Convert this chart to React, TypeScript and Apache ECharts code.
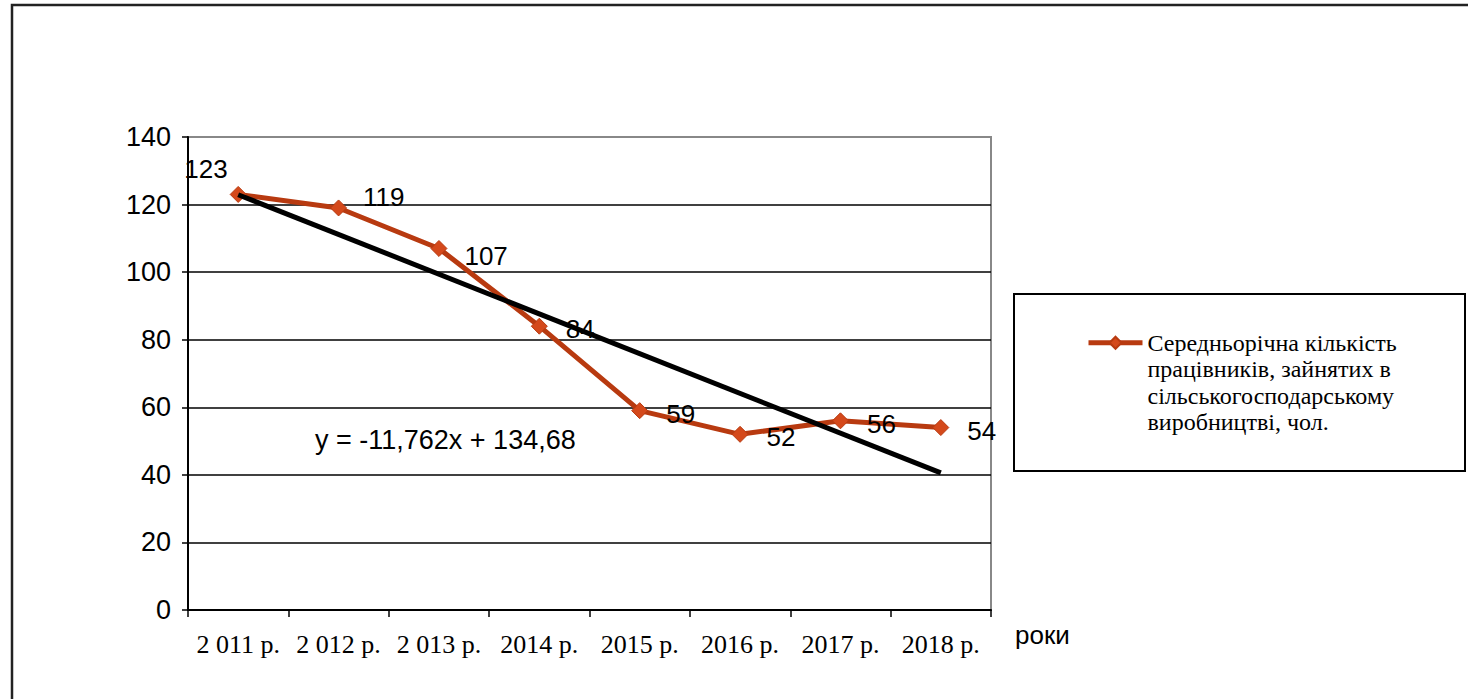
import React, { useEffect, useRef } from "react";
import * as echarts from "echarts";

const categories = ["2 011 р.", "2 012 р.", "2 013 р.", "2014 р.", "2015 р.", "2016 р.", "2017 р.", "2018 р."];
const workers = [123, 119, 107, 84, 59, 52, 56, 54];
// trend line end points (y = -11,762x + 134,68)
const trendValues = [122.92, null, null, null, null, null, null, 40.58];
const seriesName = "Середньорічна кількість\nпрацівників, зайнятих в\nсільськогосподарському\nвиробництві, чол.";
const trendName = "Лінійний тренд";
const equationText = "y = -11,762x + 134,68";
const xAxisName = "роки";
const yTicks = { min: 0, max: 140, interval: 20 };

export default function App() {
  const ref = useRef<HTMLDivElement>(null);
  useEffect(() => {
    document.body.style.margin = "0";
    const chart = echarts.init(ref.current!, null, { renderer: "svg" });
    const sans = "Arial, 'Liberation Sans', sans-serif";
    const serif = "'Times New Roman', 'Liberation Serif', serif";
    const labelTweak = (i: number) => {
      if (i === 0) return { position: "left", distance: 2, offset: [0, -25] };
      if (i === 1) return { position: "right", distance: 16, offset: [0, -11] };
      if (i === 2) return { position: "right", distance: 17, offset: [0, 8] };
      return { position: "right", distance: 18, offset: [0, 3] };
    };
    chart.setOption({
      animation: false,
      backgroundColor: "#fff",
      grid: {
        left: 188,
        right: 477,
        top: 137,
        bottom: 89,
        show: true,
        borderColor: "#888",
        borderWidth: 2,
      },
      legend: {
        data: [seriesName],
        left: 1086,
        top: 250,
        padding: 0,
        itemWidth: 54,
        itemHeight: 15,
        formatter: (name: string) => "\n\n\n" + name,
        lineStyle: { width: 5, color: "#B83A10" },
        textStyle: {
          fontFamily: serif,
          fontSize: 24,
          lineHeight: 26.5,
          color: "#000",
        },
      },
      xAxis: {
        type: "category",
        data: categories,
        boundaryGap: true,
        name: xAxisName,
        nameLocation: "end",
        nameGap: 24,
        nameTextStyle: {
          fontFamily: sans,
          fontSize: 26,
          color: "#000",
          align: "left",
          verticalAlign: "top",
          padding: [12, 0, 0, 0],
        },
        axisLine: { lineStyle: { color: "#000", width: 2 } },
        axisTick: { show: true, length: 7, lineStyle: { color: "#000", width: 1.5 } },
        axisLabel: { fontFamily: serif, fontSize: 26, color: "#000", margin: 21, interval: 0 },
        splitLine: { show: false },
      },
      yAxis: {
        type: "value",
        min: yTicks.min,
        max: yTicks.max,
        interval: yTicks.interval,
        axisLine: { show: true, lineStyle: { color: "#000", width: 2 } },
        axisTick: { show: true, length: 6, lineStyle: { color: "#000", width: 1.5 } },
        axisLabel: { fontFamily: sans, fontSize: 27, color: "#000", margin: 17 },
        splitLine: {
          show: true,
          lineStyle: {
            color: ["#000", "#000", "#000", "#000", "#000", "#000", "#000", "#888"],
            width: 1.5,
          },
        },
      },
      series: [
        {
          name: seriesName,
          type: "line",
          data: workers.map((v, i) => ({ value: v, label: labelTweak(i) })),
          symbol: "diamond",
          symbolSize: 16,
          lineStyle: { color: "#B83A10", width: 5 },
          itemStyle: { color: "#D4491B", borderColor: "#B83A10", borderWidth: 1 },
          label: {
            show: true,
            fontFamily: sans,
            fontSize: 26,
            color: "#000",
          },
          z: 2,
        },
        {
          name: trendName,
          type: "line",
          data: trendValues,
          connectNulls: true,
          symbol: "none",
          lineStyle: { color: "#000", width: 5 },
          z: 3,
        },
      ],
      graphic: [
        {
          type: "rect",
          shape: { x: 12, y: 5, width: 1500, height: 800 },
          style: { fill: "none", stroke: "#222", lineWidth: 2.5 },
          silent: true,
        },
        {
          type: "rect",
          shape: { x: 1014, y: 294, width: 451, height: 177 },
          style: { fill: "none", stroke: "#000", lineWidth: 2 },
          silent: true,
        },
        {
          type: "text",
          left: 315,
          top: 426,
          style: { text: equationText, fontFamily: sans, fontSize: 27, fill: "#000" },
          silent: true,
        },
      ],
    });
    return () => chart.dispose();
  }, []);
  return <div ref={ref} style={{ width: 1468, height: 699 }} />;
}
